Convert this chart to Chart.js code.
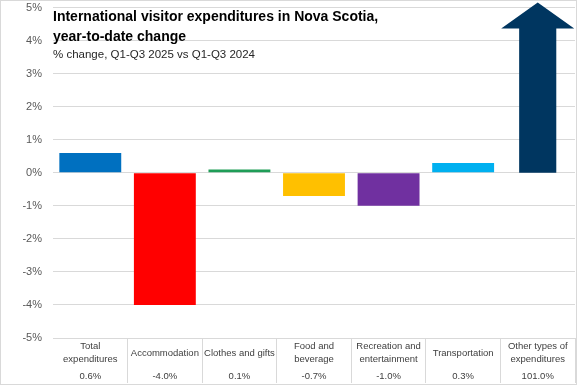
<!DOCTYPE html>
<html>
<head>
<meta charset="utf-8">
<script src="https://cdn.jsdelivr.net/npm/chart.js@4.4.1/dist/chart.umd.min.js"></script>
<style>
  html, body { margin: 0; padding: 0; background: #fff; }
  #wrap { width: 575px; height: 383px; border: 1px solid #d9d9d9; position: relative; }
</style>
</head>
<body>
<div id="wrap"><canvas id="chart"></canvas></div>
<script>
var categories = [
    ['Total', 'expenditures'],
    ['Accommodation'],
    ['Clothes and gifts'],
    ['Food and', 'beverage'],
    ['Recreation and', 'entertainment'],
    ['Transportation'],
    ['Other types of', 'expenditures']
];
var changes = [0.6, -4.0, 0.1, -0.7, -1.0, 0.3, 101.0]; // % change
var barColors = ['#0070c0', '#ff0000', '#1f9d57', '#ffc000', '#7030a0', '#00b0f0', '#003660'];
var yMin = -5;
var yMax = 5;
var titleLines = ['International visitor expenditures in Nova Scotia,', 'year-to-date change'];
var subtitle = '% change, Q1-Q3 2025 vs Q1-Q3 2024';

var FONT = '"Liberation Sans", Arial, sans-serif';

// bars that run past the axis max are drawn as an arrow instead
var overflowArrow = {
    id: 'overflowArrow',
    afterDatasetsDraw: function(chart) {
        var meta = chart.getDatasetMeta(0);
        var y = chart.scales.y;
        var area = chart.chartArea;
        var ctx = chart.ctx;
        changes.forEach(function(v, i) {
            if (v <= yMax) return;
            var bar = meta.data[i];
            var body = bar.width * 0.6;
            var head = bar.width * 1.18;
            var base = y.getPixelForValue(0);
            var neck = area.top + 21;
            var tip = area.top - 5;
            ctx.save();
            ctx.fillStyle = barColors[i];
            ctx.beginPath();
            ctx.moveTo(bar.x - body / 2, base);
            ctx.lineTo(bar.x - body / 2, neck);
            ctx.lineTo(bar.x - head / 2, neck);
            ctx.lineTo(bar.x, tip);
            ctx.lineTo(bar.x + head / 2, neck);
            ctx.lineTo(bar.x + body / 2, neck);
            ctx.lineTo(bar.x + body / 2, base);
            ctx.closePath();
            ctx.fill();
            ctx.restore();
        });
    }
};

// category names and values in the table under the plot
var tableLabels = {
    id: 'tableLabels',
    afterDraw: function(chart) {
        var x = chart.scales.x;
        var ctx = chart.ctx;
        var top = x.top;
        ctx.save();
        ctx.font = '9.5px ' + FONT;
        ctx.fillStyle = '#404040';
        ctx.textAlign = 'center';
        ctx.textBaseline = 'middle';
        categories.forEach(function(lines, i) {
            var cx = x.getPixelForValue(i);
            var mid = top + 15;
            lines.forEach(function(t, j) {
                ctx.fillText(t, cx, mid + (j - (lines.length - 1) / 2) * 13.6);
            });
            ctx.fillText(changes[i].toFixed(1) + '%', cx, top + 38);
        });
        ctx.restore();
    }
};

var titleBlock = {
    id: 'titleBlock',
    afterDraw: function(chart) {
        var ctx = chart.ctx;
        var left = chart.chartArea.left;
        ctx.save();
        ctx.textAlign = 'left';
        ctx.textBaseline = 'alphabetic';
        ctx.fillStyle = '#000';
        ctx.font = 'bold 14px ' + FONT;
        ctx.fillText(titleLines[0], left, 20);
        ctx.fillText(titleLines[1], left, 40);
        ctx.fillStyle = '#262626';
        ctx.font = '11.5px ' + FONT;
        ctx.fillText(subtitle, left, 57);
        ctx.restore();
    }
};

new Chart(document.getElementById('chart'), {
    type: 'bar',
    data: {
        labels: categories.map(function(l) { return l.join(' '); }),
        datasets: [{
            data: changes,
            backgroundColor: changes.map(function(v, i) { return v > yMax ? 'rgba(0,0,0,0)' : barColors[i]; }),
            borderWidth: 0,
            categoryPercentage: 1,
            barPercentage: 0.83
        }]
    },
    options: {
        responsive: true,
        maintainAspectRatio: false,
        animation: false,
        layout: { padding: { top: 6, right: 1, bottom: 1, left: 0 } },
        plugins: {
            legend: { display: false },
            tooltip: { enabled: false }
        },
        scales: {
            x: {
                border: { display: false },
                grid: {
                    offset: true,
                    drawOnChartArea: false,
                    tickLength: 45,
                    color: function(c) { return c.index === 0 ? 'rgba(0,0,0,0)' : '#d9d9d9'; }
                },
                ticks: { display: false }
            },
            y: {
                min: yMin,
                max: yMax,
                border: { display: false },
                // invisible tick marks push the labels off the plot edge
                grid: { color: '#d9d9d9', tickLength: 11, tickColor: 'rgba(0,0,0,0)' },
                ticks: {
                    stepSize: 1,
                    padding: 0,
                    color: '#595959',
                    font: { family: FONT, size: 11 },
                    callback: function(v) { return v + '%'; }
                },
                afterFit: function(scale) { scale.width = 52; }
            }
        }
    },
    plugins: [overflowArrow, tableLabels, titleBlock]
});
</script>
</body>
</html>
